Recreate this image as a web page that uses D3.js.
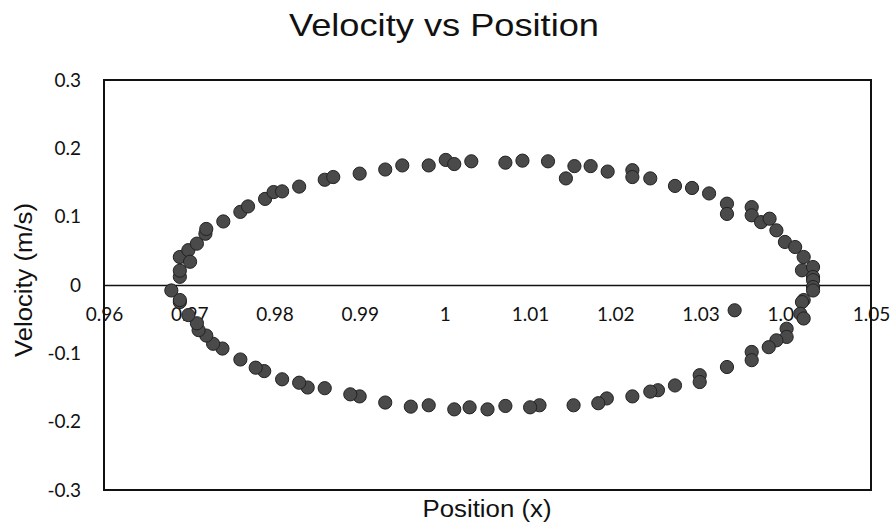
<!DOCTYPE html>
<html>
<head>
<meta charset="utf-8">
<script src="https://cdn.jsdelivr.net/npm/d3@7"></script>
<style>
html,body{margin:0;padding:0;background:#fff;}
</style>
</head>
<body>
<svg id="chart" width="894" height="525"></svg>
<script>
const title = "Velocity vs Position";
const xTitle = "Position (x)";
const yTitle = "Velocity (m/s)";
const xTicks = [0.96, 0.97, 0.98, 0.99, 1, 1.01, 1.02, 1.03, 1.04, 1.05];
const yTicks = [-0.3, -0.2, -0.1, 0, 0.1, 0.2, 0.3];
const xTickLabels = ["0.96","0.97","0.98","0.99","1","1.01","1.02","1.03","1.04","1.05"];
const yTickLabels = ["-0.3","-0.2","-0.1","0","0.1","0.2","0.3"];

// Upper arc (left to right)
const posUpper = [0.9689,0.9689,0.9689,0.9699,0.9701,0.9709,0.9719,0.9720,0.9740,0.9760,0.9769,0.9789,0.9799,0.9809,0.9829,0.9859,0.9869,0.9900,0.9930,0.9950,0.9981,1.0001,1.0011,1.0031,1.0071,1.0091,1.0121,1.0142,1.0152,1.0171,1.0191,1.0220,1.0220,1.0241,1.0270,1.0290,1.0310,1.0331,1.0331,1.0360,1.0360,1.0371,1.0381,1.0389,1.0399,1.0411,1.0421,1.0419,1.0432,1.0432,1.0432];
const velUpper = [0.012,0.021,0.041,0.051,0.034,0.0605,0.075,0.082,0.093,0.107,0.115,0.126,0.136,0.137,0.144,0.154,0.158,0.163,0.169,0.175,0.175,0.183,0.177,0.181,0.179,0.182,0.181,0.156,0.174,0.174,0.166,0.168,0.158,0.156,0.145,0.142,0.134,0.119,0.104,0.114,0.102,0.092,0.097,0.080,0.063,0.0556,0.041,0.0215,0.0263,0.0117,0.007];
// Lower arc (right to left)
const posLower = [1.0432,1.0432,1.0421,1.0419,1.0417,1.0421,1.0401,1.0401,1.0389,1.0380,1.0360,1.0360,1.0340,1.0331,1.0299,1.0299,1.0270,1.0250,1.0241,1.0220,1.0190,1.0180,1.0151,1.0111,1.0100,1.0071,1.0050,1.0029,1.0011,0.9981,0.9960,0.9930,0.9900,0.9889,0.9859,0.9839,0.9829,0.9809,0.9788,0.9778,0.9760,0.9739,0.9728,0.9720,0.9711,0.9709,0.9699,0.9689,0.9689,0.9679];
const velLower = [-0.003,-0.008,-0.022,-0.025,-0.042,-0.049,-0.064,-0.076,-0.081,-0.091,-0.098,-0.110,-0.037,-0.120,-0.132,-0.142,-0.147,-0.154,-0.156,-0.163,-0.166,-0.173,-0.176,-0.176,-0.179,-0.177,-0.182,-0.179,-0.182,-0.176,-0.178,-0.172,-0.163,-0.160,-0.151,-0.150,-0.143,-0.138,-0.126,-0.121,-0.109,-0.093,-0.086,-0.074,-0.066,-0.056,-0.044,-0.025,-0.022,-0.008];

const positions = posUpper.concat(posLower);
const velocities = velUpper.concat(velLower);
const data = positions.map((p, i) => ({x: p, y: velocities[i]}));

const svg = d3.select("#chart");
const plotLeft = 104, plotRight = 871, plotTop = 80, plotBottom = 490;

const x = d3.scaleLinear().domain([0.96, 1.05]).range([plotLeft, plotRight]);
const y = d3.scaleLinear().domain([-0.3, 0.3]).range([plotBottom, plotTop]);

// Title
svg.append("text")
  .attr("x", 444).attr("y", 36)
  .attr("text-anchor", "middle")
  .attr("font-family", "Liberation Sans, Arial, sans-serif")
  .attr("font-size", 32)
  .attr("textLength", 310).attr("lengthAdjust", "spacingAndGlyphs")
  .attr("fill", "#111")
  .text(title);

// Plot frame
svg.append("rect")
  .attr("x", plotLeft).attr("y", plotTop)
  .attr("width", plotRight - plotLeft).attr("height", plotBottom - plotTop)
  .attr("fill", "none").attr("stroke", "#111").attr("stroke-width", 2);

// Y axis labels
const yAxis = d3.axisLeft(y).tickValues(yTicks).tickSize(0).tickPadding(23)
  .tickFormat((d, i) => yTickLabels[i]);
const gy = svg.append("g").attr("transform", `translate(${plotLeft},0)`).call(yAxis);
gy.select(".domain").remove();
gy.selectAll("text")
  .attr("font-family", "Lato, 'Open Sans', sans-serif")
  .attr("font-size", 19).attr("fill", "#111");

// X axis along zero line
const xAxis = d3.axisBottom(x).tickValues(xTicks).tickSize(0).tickPadding(23)
  .tickFormat((d, i) => xTickLabels[i]);
const gx = svg.append("g").attr("transform", `translate(0,${y(0)})`).call(xAxis);
gx.select(".domain").attr("stroke", "#111").attr("stroke-width", 1.6);
gx.selectAll("text")
  .attr("font-family", "Lato, 'Open Sans', sans-serif")
  .attr("font-size", 19).attr("fill", "#111");

// Points
svg.append("g").selectAll("circle")
  .data(data).enter().append("circle")
  .attr("cx", d => x(d.x))
  .attr("cy", d => y(d.y))
  .attr("r", 6.6)
  .attr("fill", "#4a4a4a")
  .attr("stroke", "#222")
  .attr("stroke-width", 1);

// Axis titles
svg.append("text")
  .attr("x", 487).attr("y", 517)
  .attr("text-anchor", "middle")
  .attr("font-family", "Liberation Sans, Arial, sans-serif")
  .attr("font-size", 23)
  .attr("textLength", 129).attr("lengthAdjust", "spacingAndGlyphs")
  .attr("fill", "#111")
  .text(xTitle);

svg.append("text")
  .attr("transform", "translate(32,280) rotate(-90)")
  .attr("text-anchor", "middle")
  .attr("font-family", "Liberation Sans, Arial, sans-serif")
  .attr("font-size", 23)
  .attr("textLength", 154).attr("lengthAdjust", "spacingAndGlyphs")
  .attr("fill", "#111")
  .text(yTitle);
</script>
</body>
</html>
